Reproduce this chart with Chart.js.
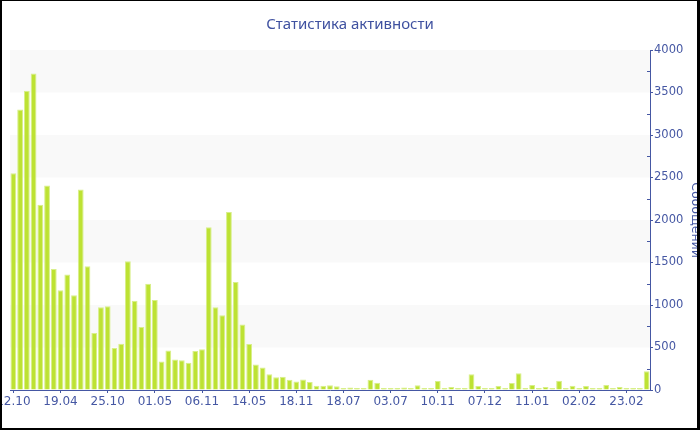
<!DOCTYPE html>
<html lang="ru">
<head>
<meta charset="utf-8">
<title>Статистика активности</title>
<script src="https://cdn.jsdelivr.net/npm/chart.js@4.4.1/dist/chart.umd.min.js"></script>
<style>
  body { margin: 0; background: #fff; }
  #wrap { position: relative; width: 700px; height: 430px; }
  #frame {
    position: absolute; left: 0; top: 0; width: 700px; height: 430px;
    box-sizing: border-box; border: solid #000; border-width: 1px 3px 2px 2px;
    pointer-events: none;
  }
</style>
</head>
<body>
<div id="wrap">
  <canvas id="activite" width="700" height="430"></canvas>
  <div id="frame"></div>
</div>
<script>
// Nombre de messages par période
const messages = [
  2550, 3300, 3520, 3725, 2180, 2405, 1425, 1175, 1360, 1115,
  2360, 1455, 670, 975, 985, 495, 545, 1515, 1050, 740,
  1250, 1060, 335, 465, 360, 350, 320, 460, 480, 1915,
  975, 880, 2095, 1270, 770, 540, 300, 265, 185, 150,
  155, 120, 100, 125, 95, 50, 50, 55, 45, 20,
  30, 25, 15, 120, 85, 25, 15, 20, 30, 10,
  55, 10, 10, 105, 10, 35, 12, 12, 185, 47,
  24, 12, 47, 12, 82, 196, 24, 59, 12, 35,
  12, 110, 24, 51, 20, 47, 20, 12, 59, 16,
  35, 16, 20, 24, 220
];

// Étiquettes visibles de l'axe X (une toutes les 7 barres)
const dateLabels = [
  "12.10", "19.04", "25.10", "01.05", "06.11", "14.05", "18.11",
  "18.07", "03.07", "10.11", "07.12", "11.01", "02.02", "23.02"
];
const labelStep = 7;

const yTicks = [0, 500, 1000, 1500, 2000, 2500, 3000, 3500, 4000];

const categories = messages.map((_, i) =>
  i % labelStep === 0 ? dateLabels[i / labelStep] : ""
);

const blue = "#4557a3";
const font = "'DejaVu Sans', Verdana, sans-serif";

// Bandes grises alternées + petites graduations de l'axe Y
const decor = {
  id: "decor",
  beforeDatasetsDraw(chart) {
    const { ctx, chartArea, scales } = chart;
    ctx.save();
    ctx.fillStyle = "#f9f9f9";
    for (let i = 1; i < yTicks.length; i += 2) {
      const top = scales.y.getPixelForValue(yTicks[i + 1]);
      const bottom = scales.y.getPixelForValue(yTicks[i]);
      ctx.fillRect(chartArea.left, top, chartArea.right - chartArea.left, bottom - top);
    }
    ctx.restore();
  },
  afterDraw(chart) {
    const { ctx, chartArea, scales } = chart;
    ctx.save();
    ctx.strokeStyle = blue;
    ctx.lineWidth = 1;
    for (let i = 0; i < yTicks.length - 1; i++) {
      const y = Math.round(scales.y.getPixelForValue((yTicks[i] + yTicks[i + 1]) / 2)) + 0.5;
      ctx.beginPath();
      ctx.moveTo(chartArea.right - 3, y);
      ctx.lineTo(chartArea.right, y);
      ctx.stroke();
    }
    ctx.restore();
  }
};

const ctx = document.getElementById("activite");

new Chart(ctx, {
  type: "bar",
  data: {
    labels: categories,
    datasets: [
      {
        label: "Сообщений",
        data: messages,
        backgroundColor: "#bde233",
        borderColor: "#d8ef8a",
        borderWidth: 1,
        barPercentage: 0.86,
        categoryPercentage: 1.0,
        minBarLength: 2
      }
    ]
  },
  options: {
    responsive: false,
    animation: false,
    layout: { padding: 0 },
    plugins: {
      legend: { display: false },
      tooltip: { enabled: false },
      title: {
        display: true,
        text: "Статистика активности",
        color: "#3f51a0",
        font: { family: "'Noto Sans', sans-serif", size: 15, weight: "normal" },
        padding: { top: 16, bottom: 16 }
      }
    },
    scales: {
      x: {
        grid: {
          display: true,
          offset: false,
          drawOnChartArea: false,
          tickLength: 3,
          tickColor: (c) => (c.index % labelStep === 0 ? blue : "rgba(0,0,0,0)")
        },
        border: { display: true, color: blue, width: 1 },
        ticks: {
          autoSkip: false,
          maxRotation: 0,
          minRotation: 0,
          padding: 2,
          color: blue,
          font: { family: font, size: 12 }
        },
        afterFit: (s) => {
          s.height = 40;
          s.paddingLeft = 10;
          s.paddingRight = 0;
        }
      },
      y: {
        position: "right",
        min: 0,
        max: 4000,
        grid: {
          display: true,
          drawOnChartArea: false,
          tickLength: 3,
          color: blue
        },
        border: { display: true, color: blue, width: 1 },
        ticks: {
          stepSize: 500,
          padding: 1,
          color: blue,
          font: { family: font, size: 11.5 },
          callback: (v) => String(v)
        },
        title: {
          display: true,
          text: "Сообщений",
          color: blue,
          font: { family: font, size: 12.5 },
          padding: { top: -3, bottom: 0 }
        },
        afterFit: (s) => {
          s.width = 50;
        }
      }
    }
  },
  plugins: [decor]
});
</script>
</body>
</html>
